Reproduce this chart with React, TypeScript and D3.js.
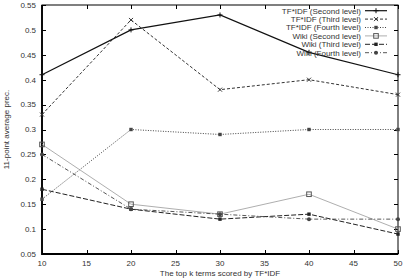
import React, { useEffect, useRef } from "react";
import * as d3 from "d3";

const kValues = [10, 20, 30, 40, 50];
const tfidfSecond = [0.41, 0.5, 0.53, 0.455, 0.41];
const tfidfThird = [0.33, 0.52, 0.38, 0.4, 0.37];
const tfidfFourth = [0.16, 0.3, 0.29, 0.3, 0.3];
const wikiSecond = [0.27, 0.15, 0.13, 0.17, 0.1];
const wikiThird = [0.18, 0.14, 0.12, 0.13, 0.09];
const wikiFourth = [0.25, 0.14, 0.13, 0.12, 0.12];

const xTicks = [10, 15, 20, 25, 30, 35, 40, 45, 50];
const yTicks = [0.05, 0.1, 0.15, 0.2, 0.25, 0.3, 0.35, 0.4, 0.45, 0.5, 0.55];

const seriesNames = [
  "TF*IDF (Second level)",
  "TF*IDF (Third level)",
  "TF*IDF (Fourth level)",
  "Wiki (Second level)",
  "Wiki (Third level)",
  "Wiki (Fourth level)",
];

type Style = { stroke: string; width: number; dash: string | null; marker: string };

const styles: Style[] = [
  { stroke: "#111", width: 1.2, dash: null, marker: "plus" },
  { stroke: "#333", width: 1, dash: "3,2", marker: "cross" },
  { stroke: "#444", width: 1, dash: "1,1.5", marker: "square" },
  { stroke: "#999", width: 0.8, dash: null, marker: "openSquare" },
  { stroke: "#222", width: 1, dash: "5,2", marker: "square" },
  { stroke: "#444", width: 0.9, dash: "4,2,1,2", marker: "circle" },
];

const App = () => {
  const svgRef = useRef<SVGSVGElement>(null);

  useEffect(() => {
    const width = 407;
    const height = 278;
    const margin = { top: 5, right: 9, bottom: 24, left: 42 };

    const svg = d3.select(svgRef.current);
    svg.selectAll("*").remove();

    const x = d3.scaleLinear().domain([10, 50]).range([margin.left, width - margin.right]);
    const y = d3.scaleLinear().domain([0.05, 0.55]).range([height - margin.bottom, margin.top]);

    const font = "'Liberation Sans', Arial, sans-serif";
    const tick = 4;

    // inward ticks on all four sides
    const g = svg.append("g").attr("stroke", "#000").attr("stroke-width", 1);
    xTicks.forEach((t) => {
      const px = Math.round(x(t)) + 0.5;
      g.append("line").attr("x1", px).attr("x2", px).attr("y1", y(0.05)).attr("y2", y(0.05) - tick);
      g.append("line").attr("x1", px).attr("x2", px).attr("y1", y(0.55)).attr("y2", y(0.55) + tick);
    });
    yTicks.forEach((t) => {
      const py = Math.round(y(t)) + 0.5;
      g.append("line").attr("x1", x(10)).attr("x2", x(10) + tick).attr("y1", py).attr("y2", py);
      g.append("line").attr("x1", x(50)).attr("x2", x(50) - tick).attr("y1", py).attr("y2", py);
    });

    svg.append("rect")
      .attr("x", x(10))
      .attr("y", y(0.55))
      .attr("width", x(50) - x(10))
      .attr("height", y(0.05) - y(0.55))
      .attr("fill", "none")
      .attr("stroke", "#000")
      .attr("stroke-width", 1);
    // heavier left and bottom axes
    svg.append("path")
      .attr("d", `M${x(10)},${y(0.55)}V${y(0.05)}H${x(50)}`)
      .attr("fill", "none")
      .attr("stroke", "#000")
      .attr("stroke-width", 1.8);

    yTicks.forEach((t) => {
      svg.append("text")
        .attr("x", x(10) - 6)
        .attr("y", y(t))
        .attr("dy", "0.35em")
        .attr("text-anchor", "end")
        .style("font", `8px ${font}`)
        .attr("fill", "#333")
        .text(t.toString());
    });
    xTicks.forEach((t) => {
      svg.append("text")
        .attr("x", x(t))
        .attr("y", y(0.05) + 12)
        .attr("text-anchor", "middle")
        .style("font", `8px ${font}`)
        .attr("fill", "#333")
        .text(t);
    });

    svg.append("text")
      .attr("x", (x(10) + x(50)) / 2)
      .attr("y", height - 2)
      .attr("text-anchor", "middle")
      .style("font", `8px ${font}`)
      .attr("fill", "#333")
      .text("The top k terms scored by TF*IDF");

    svg.append("text")
      .attr("transform", `translate(9,${(y(0.05) + y(0.55)) / 2}) rotate(-90)`)
      .attr("text-anchor", "middle")
      .style("font", `8px ${font}`)
      .attr("fill", "#333")
      .text("11-point average prec.");

    const drawMarker = (sel: any, kind: string, cx: number, cy: number, color: string) => {
      if (kind === "plus") {
        sel.append("path").attr("d", `M${cx - 2.5},${cy}H${cx + 2.5}M${cx},${cy - 2.5}V${cy + 2.5}`)
          .attr("stroke", color).attr("stroke-width", 1).attr("fill", "none");
      } else if (kind === "cross") {
        sel.append("path").attr("d", `M${cx - 2},${cy - 2}L${cx + 2},${cy + 2}M${cx - 2},${cy + 2}L${cx + 2},${cy - 2}`)
          .attr("stroke", color).attr("stroke-width", 1).attr("fill", "none");
      } else if (kind === "square") {
        sel.append("rect").attr("x", cx - 1.7).attr("y", cy - 1.7).attr("width", 3.4).attr("height", 3.4)
          .attr("fill", color);
      } else if (kind === "openSquare") {
        sel.append("rect").attr("x", cx - 2.3).attr("y", cy - 2.3).attr("width", 4.6).attr("height", 4.6)
          .attr("fill", "none").attr("stroke", "#555").attr("stroke-width", 1);
      } else if (kind === "circle") {
        sel.append("circle").attr("cx", cx).attr("cy", cy).attr("r", 2).attr("fill", color);
      }
    };

    const allSeries = [tfidfSecond, tfidfThird, tfidfFourth, wikiSecond, wikiThird, wikiFourth];
    const line = d3.line<number>().x((d, i) => x(kValues[i])).y((d) => y(d));

    allSeries.forEach((vals, si) => {
      const st = styles[si];
      svg.append("path")
        .datum(vals)
        .attr("fill", "none")
        .attr("stroke", st.stroke)
        .attr("stroke-width", st.width)
        .attr("stroke-dasharray", st.dash)
        .attr("d", line);
      const mg = svg.append("g");
      vals.forEach((v, i) => drawMarker(mg, st.marker, x(kValues[i]), y(v), st.stroke));
    });

    // legend in the upper right corner
    const legX = 361;
    seriesNames.forEach((name, i) => {
      const ly = 10.7 + i * 8.4;
      const st = styles[i];
      svg.append("text")
        .attr("x", legX)
        .attr("y", ly)
        .attr("dy", "0.35em")
        .attr("text-anchor", "end")
        .style("font", `8px ${font}`)
        .attr("fill", "#333")
        .text(name);
      svg.append("line")
        .attr("x1", legX + 4)
        .attr("x2", legX + 26)
        .attr("y1", ly)
        .attr("y2", ly)
        .attr("stroke", st.stroke)
        .attr("stroke-width", st.width)
        .attr("stroke-dasharray", st.dash);
      drawMarker(svg, st.marker, legX + 15, ly, st.stroke);
    });
  }, []);

  return (
    <svg
      ref={svgRef}
      width={407}
      height={278}
      style={{ position: "absolute", left: 0, top: 0, background: "#fff" }}
    ></svg>
  );
};

export default App;
